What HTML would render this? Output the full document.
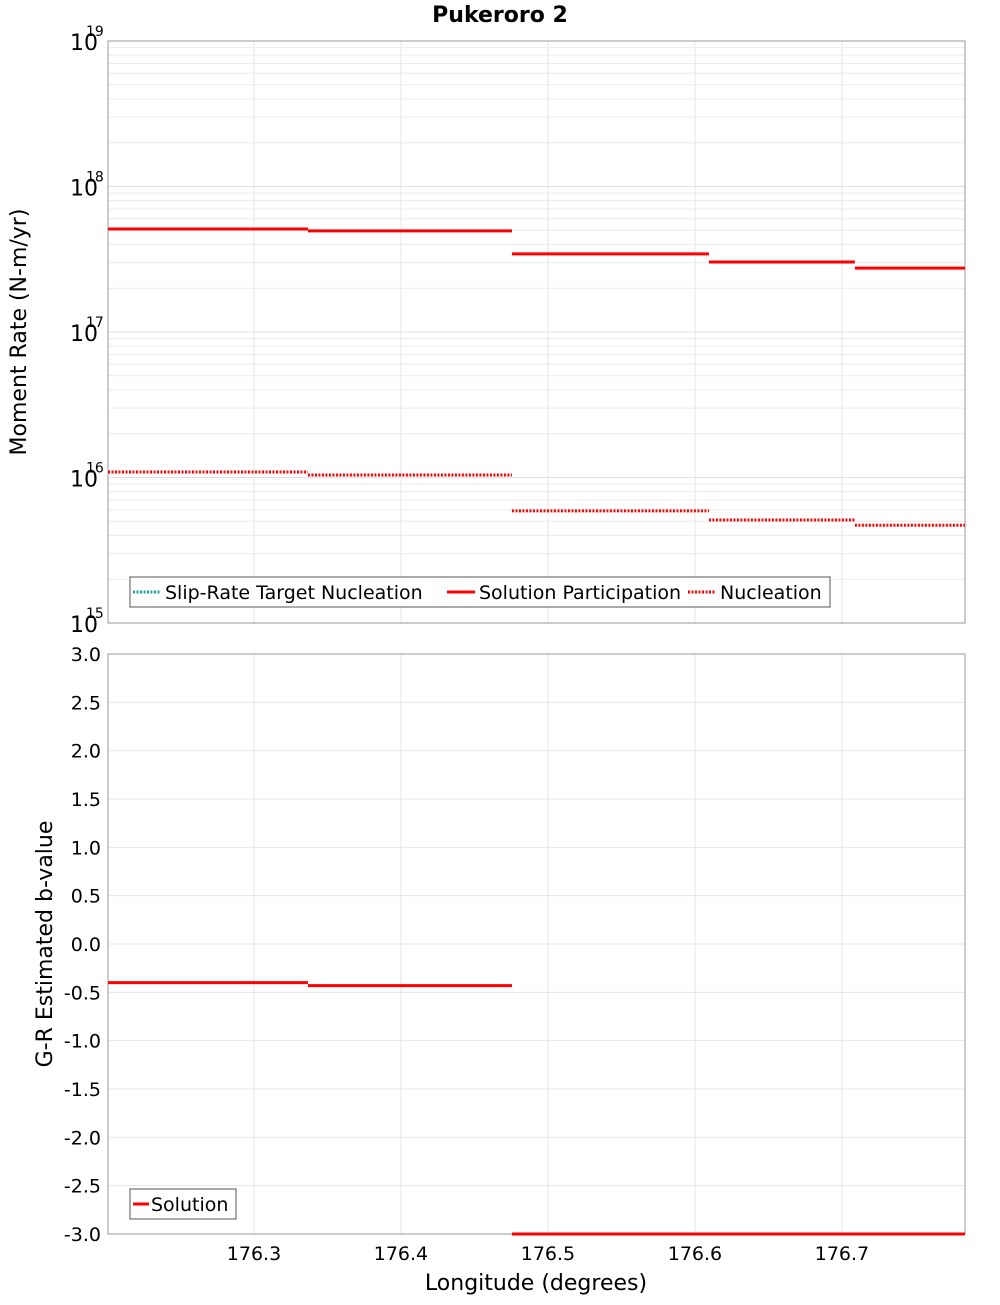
<!DOCTYPE html>
<html><head><meta charset="utf-8"><style>
body{margin:0;background:#fff;}
svg text{font-family:"DejaVu Sans","Liberation Sans",sans-serif;}
</style></head><body>
<svg id="chart" width="1000" height="1300" xmlns="http://www.w3.org/2000/svg">
<g id="topPanel"></g>
<g id="botPanel"></g>
<text x="500" y="22" text-anchor="middle" font-size="22" font-weight="bold">Pukeroro 2</text>
<text transform="translate(26,332) rotate(-90)" text-anchor="middle" font-size="22">Moment Rate (N-m/yr)</text>
<text transform="translate(52,944) rotate(-90)" text-anchor="middle" font-size="22">G-R Estimated b-value</text>
<text x="536" y="1290" text-anchor="middle" font-size="22">Longitude (degrees)</text>
</svg>
<script>
const segStarts=[176.2007,176.3367,176.4755,176.6095,176.7088];
const segEnds=[176.3367,176.4755,176.6095,176.7088,176.7837];
const participation=[5.1e17,4.95e17,3.44e17,3.03e17,2.75e17];
const nucleation=[1.09e16,1.04e16,5.9e15,5.1e15,4.7e15];
const bValues=[-0.40,-0.43,-3.0,-3.0,-3.0];
const xTicks=[176.3,176.4,176.5,176.6,176.7];
const logTicks=[15,16,17,18,19];
const bTicks=[3.0,2.5,2.0,1.5,1.0,0.5,0.0,-0.5,-1.0,-1.5,-2.0,-2.5,-3.0];

const NS="http://www.w3.org/2000/svg";
const L=108,R=965,T1=41,B1=623,T2=654,B2=1234;
const xMin=176.2007,xMax=176.7837;
const X=v=>L+(v-xMin)/(xMax-xMin)*(R-L);
const Y1=v=>B1-(Math.log10(v)-15)/4*(B1-T1);
const Y2=v=>B2-(v+3)/6*(B2-T2);
function mk(p,tag,a){const e=document.createElementNS(NS,tag);for(const k in a)e.setAttribute(k,a[k]);p.appendChild(e);return e;}
const topG=document.getElementById('topPanel'),botG=document.getElementById('botPanel');

for(let d=15;d<19;d++)for(let m=1;m<10;m++){const y=Y1(m*Math.pow(10,d));
 const g=mk(topG,'line',{x1:L,x2:R,y1:y,y2:y,stroke:m==1?'#e0e0e0':'#ececec','stroke-width':1});
 
 }
for(const t of xTicks){for(const [p,a,b] of [[topG,T1,B1],[botG,T2,B2]]){
 const g=mk(p,'line',{x1:X(t),x2:X(t),y1:a,y2:b,stroke:'#e6e6e6','stroke-width':1});
 
 }}
for(const t of bTicks){const g=mk(botG,'line',{x1:L,x2:R,y1:Y2(t),y2:Y2(t),stroke:'#e6e6e6','stroke-width':1});
 
 }

for(const [p,a,b] of [[topG,T1,B1],[botG,T2,B2]]){const f=mk(p,'rect',{x:L,y:a,width:R-L,height:b-a,fill:'none',stroke:'#999','stroke-width':1});
 
 }

for(const d of logTicks){const y=Y1(Math.pow(10,d));
 const t=mk(topG,'text',{x:98,y:y+9,'text-anchor':'end','font-size':22});t.textContent='10';
 
 
 const s=mk(topG,'text',{x:86,y:y-5,'font-size':14});s.textContent=String(d);
 
 }
for(const v of bTicks){const t=mk(botG,'text',{x:101,y:Y2(v)+7,'text-anchor':'end','font-size':19});t.textContent=v.toFixed(1);
 
 }
for(const v of xTicks){const t=mk(botG,'text',{x:X(v),y:1260,'text-anchor':'middle','font-size':19});t.textContent=v.toFixed(1);
 
 }

for(let i=0;i<segStarts.length;i++){
 const a=mk(topG,'line',{x1:X(segStarts[i]),x2:X(segEnds[i]),y1:Y1(participation[i]),y2:Y1(participation[i]),stroke:'#f00','stroke-width':3});
 
 
 const b=mk(topG,'line',{x1:X(segStarts[i]),x2:X(segEnds[i]),y1:Y1(nucleation[i]),y2:Y1(nucleation[i]),stroke:'#f00','stroke-width':3,'stroke-dasharray':'2,1.5'});
 
 
 const c=mk(botG,'line',{x1:X(segStarts[i]),x2:X(segEnds[i]),y1:Y2(bValues[i]),y2:Y2(bValues[i]),stroke:'#f00','stroke-width':3});
 
 }

const lg=mk(topG,'g',{});


mk(lg,'rect',{x:130,y:577,width:700,height:30,fill:'#fff',stroke:'#555','stroke-width':1});
const items=[['Slip-Rate Target Nucleation','#1aa0a0','2,1.5',133],['Solution Participation','#f00','',447],['Nucleation','#f00','2,1.5',688]];
for(const [txt,col,dash,x] of items){const e=mk(lg,'line',{x1:x,x2:x+28,y1:592,y2:592,stroke:col,'stroke-width':3});if(dash)e.setAttribute('stroke-dasharray',dash);
 
 
 const t=mk(lg,'text',{x:x+32,y:599,'font-size':19});t.textContent=txt;
 
 }
const lg2=mk(botG,'g',{});


mk(lg2,'rect',{x:130,y:1189,width:106,height:30,fill:'#fff',stroke:'#555','stroke-width':1});
const e2=mk(lg2,'line',{x1:133,x2:149,y1:1204,y2:1204,stroke:'#f00','stroke-width':3});


const t2=mk(lg2,'text',{x:151,y:1211,'font-size':19});t2.textContent='Solution';


</script>
</body></html>
